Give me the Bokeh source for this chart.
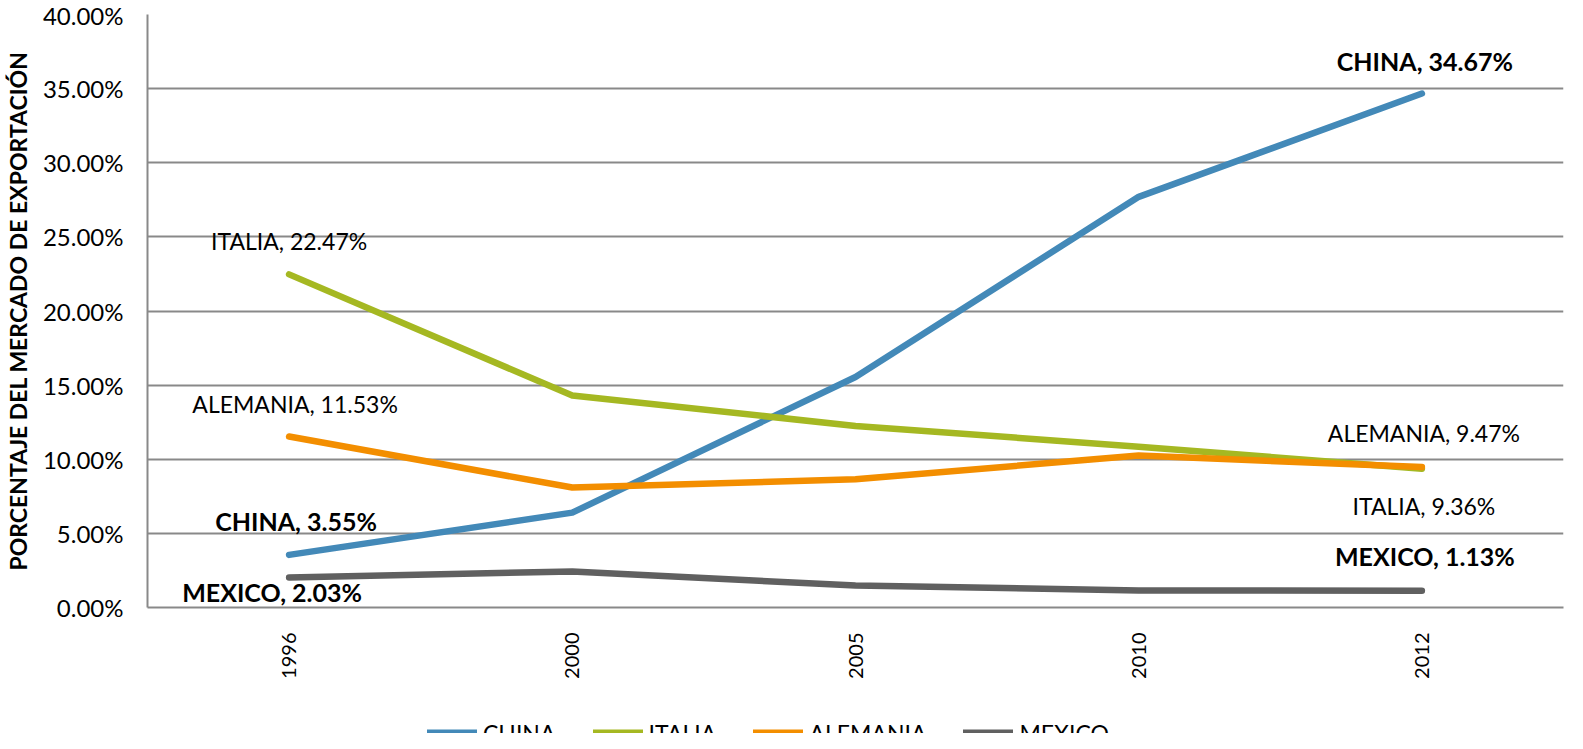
import math
from bokeh.plotting import figure
from bokeh.layouts import column
from bokeh.models import ColumnDataSource, FactorRange, FixedTicker, Legend, LegendItem, LabelSet
from bokeh.core.properties import value
from bokeh.embed import file_html
from bokeh.resources import INLINE

years = ["1996", "2000", "2005", "2010", "2012"]
china = [3.55, 6.40, 15.55, 27.70, 34.67]
italia = [22.47, 14.30, 12.25, 10.85, 9.36]
alemania = [11.53, 8.09, 8.65, 10.25, 9.47]
mexico = [2.03, 2.43, 1.48, 1.15, 1.13]
y_ticks = [0, 5, 10, 15, 20, 25, 30, 35, 40]

series = [("CHINA", china, "#4389B8"), ("ITALIA", italia, "#A5B822"),
          ("ALEMANIA", alemania, "#F38E00"), ("MEXICO", mexico, "#606060")]

FONT = "Lato"
p = figure(x_range=FactorRange(*years, range_padding=0), y_range=(0, 40),
           frame_width=1416, frame_height=593, output_backend="svg", toolbar_location=None,
           min_border_left=144, min_border_right=7, min_border_top=14, min_border_bottom=83)
p.outline_line_color = None

for name, vals, col in series:
    p.line(years, vals, line_color=col, line_width=6.5, line_cap="round", line_join="round")

# data labels: (series name, values, index, style, x offset, y offset)
lab_idx = [("ITALIA", italia, 0, "normal", 0, 33), ("ALEMANIA", alemania, 0, "normal", 6, 33),
           ("CHINA", china, 0, "bold", 7, 34), ("MEXICO", mexico, 0, "bold", -17, -15),
           ("CHINA", china, 4, "bold", 3, 33), ("ALEMANIA", alemania, 4, "normal", 2, 34),
           ("ITALIA", italia, 4, "normal", 2, -37), ("MEXICO", mexico, 4, "bold", 3, 35)]
for style in ["normal", "bold"]:
    rows = [l for l in lab_idx if l[3] == style]
    src = ColumnDataSource(dict(
        x=[years[l[2]] for l in rows],
        y=[l[1][l[2]] for l in rows],
        t=["%s, %.2f%%" % (l[0], l[1][l[2]]) for l in rows],
        dx=[l[4] for l in rows],
        dy=[l[5] for l in rows]))
    ls = LabelSet(x="x", y="y", text="t", x_offset="dx", y_offset="dy", source=src,
                  text_align="center", text_baseline="middle", text_font=value(FONT),
                  text_font_size="25px" if style == "bold" else "23px",
                  text_font_style=style, text_color="#000000")
    p.add_layout(ls)

# axes
p.yaxis.ticker = FixedTicker(ticks=y_ticks)
p.yaxis.major_label_overrides = {t: "%.2f%%" % t for t in y_ticks}
p.yaxis.major_label_text_font = FONT
p.yaxis.major_label_text_font_size = "24px"
p.yaxis.major_label_text_color = "#000000"
p.yaxis.major_label_standoff = 24
p.yaxis.major_tick_line_color = None
p.yaxis.minor_tick_line_color = None
p.yaxis.major_tick_out = 0
p.yaxis.axis_line_color = "#898989"
p.yaxis.axis_line_width = 2
p.yaxis.axis_label = "PORCENTAJE DEL MERCADO DE EXPORTACIÓN"
p.yaxis.axis_label_text_font = FONT
p.yaxis.axis_label_text_font_size = "23px"
p.yaxis.axis_label_text_font_style = "bold"
p.yaxis.axis_label_text_color = "#000000"
p.yaxis.axis_label_standoff = 8

p.xaxis.major_label_orientation = math.pi / 2
p.xaxis.major_label_text_font = FONT
p.xaxis.major_label_text_font_size = "20px"
p.xaxis.major_label_text_color = "#000000"
p.xaxis.major_label_standoff = 25
p.xaxis.major_tick_line_color = None
p.xaxis.major_tick_out = 0
p.xaxis.axis_line_color = "#898989"
p.xaxis.axis_line_width = 2

p.xgrid.grid_line_color = None
p.ygrid.grid_line_color = "#898989"
p.ygrid.grid_line_width = 2

# legend strip below the chart: the same series, drawn outside its visible range,
# so that only their legend glyphs show
p2 = figure(frame_width=1567, frame_height=43, x_range=FactorRange(*years, range_padding=0),
            y_range=(100, 101), output_backend="svg", toolbar_location=None,
            x_axis_location=None, y_axis_location=None,
            min_border_left=0, min_border_right=0, min_border_top=0, min_border_bottom=0)
p2.outline_line_color = None
p2.grid.visible = False
items = []
for name, vals, col in series:
    r = p2.line(years, vals, line_color=col, line_width=8, line_cap="round")
    items.append(LegendItem(label=name, renderers=[r]))
legend = Legend(items=items, orientation="horizontal", location=(427, -14),
                label_text_font=FONT, label_text_font_size="23px", label_text_color="#000000",
                glyph_width=50, glyph_height=22, label_standoff=6, spacing=37,
                border_line_color=None, background_fill_alpha=0, padding=0, margin=0)
p2.add_layout(legend, "center")

open("out.html", "w").write(file_html(column(p, p2), INLINE))
